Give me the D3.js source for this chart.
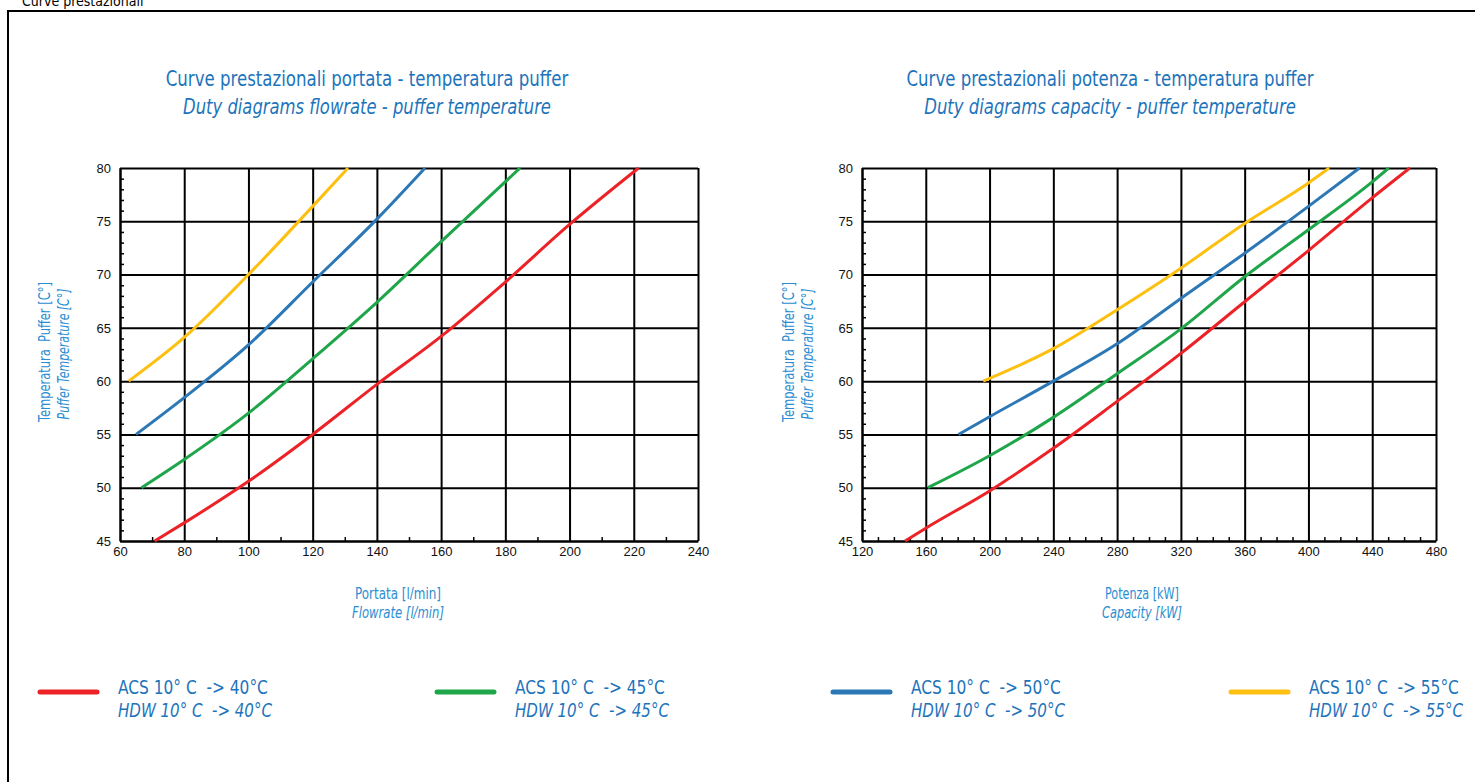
<!DOCTYPE html>
<html>
<head>
<meta charset="utf-8">
<script src="https://cdn.jsdelivr.net/npm/d3@7"></script>
<style>
  body { margin: 0; background: #fff; }
  svg { display: block; }
  text { white-space: pre; }
</style>
</head>
<body>
<div id="chart"></div>
<script>
// Flowrate chart (x = l/min, y = puffer temperature °C)
const flowTicks = [60, 80, 100, 120, 140, 160, 180, 200, 220, 240];
const flow40 = [[70.8, 45], [80, 46.7], [100, 50.6], [120, 55], [140, 59.7], [160, 64.2], [180, 69.3], [200, 74.7], [221.5, 80]];
const flow45 = [[66.7, 50], [80, 52.65], [100, 57], [120, 62.1], [140, 67.4], [160, 73.1], [184.6, 80]];
const flow50 = [[65, 55], [80, 58.45], [100, 63.4], [120, 69.3], [140, 75.2], [155, 80]];
const flow55 = [[62.7, 60], [80, 64.1], [100, 70], [120, 76.4], [131, 80]];

// Capacity chart (x = kW, y = puffer temperature °C)
const powerTicks = [120, 160, 200, 240, 280, 320, 360, 400, 440, 480];
const power40 = [[147, 45], [160, 46.2], [200, 49.7], [240, 53.7], [280, 58.1], [320, 62.6], [360, 67.45], [400, 72.25], [440, 77.2], [463.6, 80]];
const power45 = [[161.3, 50], [200, 53], [240, 56.6], [280, 60.7], [320, 64.9], [360, 69.8], [400, 74.2], [440, 78.7], [450.4, 80]];
const power50 = [[180.5, 55], [200, 56.66], [240, 60], [280, 63.5], [320, 67.76], [360, 72], [400, 76.4], [432, 80]];
const power55 = [[196, 60], [240, 63.05], [280, 66.7], [320, 70.6], [360, 74.8], [400, 78.6], [413, 80]];

const tempTicks = [45, 50, 55, 60, 65, 70, 75, 80];

const legendAcs = ["ACS 10° C  -> 40°C", "ACS 10° C  -> 45°C", "ACS 10° C  -> 50°C", "ACS 10° C  -> 55°C"];
const legendHdw = ["HDW 10° C  -> 40°C", "HDW 10° C  -> 45°C", "HDW 10° C  -> 50°C", "HDW 10° C  -> 55°C"];

const colors = ["#ec2227", "#1fa64a", "#2c78b7", "#fdc010"];
const titleBlue = "#1d74bb";
const labelBlue = "#2a8dd2";
const narrow = "'Liberation Sans Narrow', 'DejaVu Sans Condensed', 'Roboto Condensed', sans-serif";

const width = 1475, height = 782;

const svg = d3.select("#chart").append("svg")
  .attr("width", width)
  .attr("height", height);

// page frame + cut off caption
svg.append("path")
  .attr("d", "M8," + height + " V11 H" + width)
  .attr("fill", "none")
  .attr("stroke", "#000")
  .attr("stroke-width", 2);

svg.append("text")
  .attr("x", 22).attr("y", 6)
  .attr("font-family", narrow)
  .attr("font-size", 14)
  .text("Curve prestazionali");

// text squeezed horizontally to a given width (condensed look)
function label(parent, o) {
  const t = parent.append("text")
    .attr("text-anchor", o.anchor || "start")
    .attr("font-family", narrow)
    .attr("font-size", o.size)
    .attr("font-style", o.italic ? "italic" : null)
    .attr("fill", o.fill)
    .text(o.text);
  const k = o.len / t.node().getComputedTextLength();
  t.attr("transform", "translate(" + o.x + "," + o.y + ")" + (o.rotate ? " rotate(" + o.rotate + ")" : "") + " scale(" + k + ",1)");
  return t;
}

function drawChart(cfg) {
  const x = d3.scaleLinear().domain(cfg.xDomain).range([cfg.left, cfg.right]);
  const y = d3.scaleLinear().domain([45, 80]).range([cfg.bottom, cfg.top]);
  const w = cfg.right - cfg.left;
  const h = cfg.bottom - cfg.top;

  const xMinor = d3.range(cfg.xDomain[0], cfg.xDomain[1] + 0.1, 10).filter(v => !cfg.xTicks.includes(v));
  const yMinor = d3.range(45, 80.1, 1).filter(v => !tempTicks.includes(v));

  const g = svg.append("g");

  // minor ticks
  g.append("g")
    .attr("transform", "translate(0," + cfg.bottom + ")")
    .call(d3.axisBottom(x).tickValues(xMinor).tickSize(-4).tickFormat(""))
    .call(a => a.select(".domain").remove())
    .selectAll("line").attr("stroke", "#000").attr("stroke-width", 1.5);
  g.append("g")
    .attr("transform", "translate(" + cfg.left + ",0)")
    .call(d3.axisLeft(y).tickValues(yMinor).tickSize(-4).tickFormat(""))
    .call(a => a.select(".domain").remove())
    .selectAll("line").attr("stroke", "#000").attr("stroke-width", 1.5);

  // grid
  g.append("g")
    .attr("transform", "translate(0," + cfg.bottom + ")")
    .call(d3.axisBottom(x).tickValues(cfg.xTicks).tickSize(-h).tickSizeOuter(0).tickFormat(""))
    .call(a => a.select(".domain").attr("stroke-width", 2))
    .selectAll("line").attr("stroke", "#000").attr("stroke-width", 2);
  g.append("g")
    .attr("transform", "translate(" + cfg.left + ",0)")
    .call(d3.axisLeft(y).tickValues(tempTicks).tickSize(-w).tickSizeOuter(0).tickFormat(""))
    .call(a => a.select(".domain").attr("stroke-width", 2))
    .selectAll("line").attr("stroke", "#000").attr("stroke-width", 2);

  // tick labels
  const xl = g.append("g")
    .attr("transform", "translate(0," + cfg.bottom + ")")
    .call(d3.axisBottom(x).tickValues(cfg.xTicks).tickSize(0).tickPadding(6));
  xl.select(".domain").remove();
  const yl = g.append("g")
    .attr("transform", "translate(" + cfg.left + ",0)")
    .call(d3.axisLeft(y).tickValues(tempTicks).tickSize(0).tickPadding(9));
  yl.select(".domain").remove();
  [xl, yl].forEach(a => a.selectAll("text")
    .attr("font-family", "'Liberation Sans', Arial, sans-serif")
    .attr("font-size", 13)
    .attr("fill", "#111"));

  // curves
  const line = d3.line()
    .x(d => x(d[0]))
    .y(d => y(d[1]))
    .curve(d3.curveMonotoneX);
  g.selectAll("path.curve")
    .data(cfg.series)
    .join("path")
    .attr("class", "curve")
    .attr("d", line)
    .attr("fill", "none")
    .attr("stroke", (d, i) => colors[i])
    .attr("stroke-width", 3);

  // titles
  label(g, { x: cfg.titleX, y: 86, anchor: "middle", size: 21, fill: titleBlue, text: cfg.title1, len: cfg.title1Len });
  label(g, { x: cfg.titleX, y: 114, anchor: "middle", size: 21, italic: true, fill: titleBlue, text: cfg.title2, len: cfg.title2Len });

  // axis labels
  label(g, { x: cfg.xLabelX, y: 599, anchor: "middle", size: 15, fill: labelBlue, text: cfg.xLabel1, len: cfg.xLabel1Len });
  label(g, { x: cfg.xLabelX, y: 618, anchor: "middle", size: 15, italic: true, fill: labelBlue, text: cfg.xLabel2, len: cfg.xLabel2Len });
  label(g, { x: cfg.yLabelX, y: 352, rotate: -90, anchor: "middle", size: 15, fill: labelBlue, text: "Temperatura  Puffer [C°]", len: 140 });
  label(g, { x: cfg.yLabelX + 19, y: 354, rotate: -90, anchor: "middle", size: 15, italic: true, fill: labelBlue, text: "Puffer Temperature [C°]", len: 131 });
}

drawChart({
  xDomain: [60, 240], xTicks: flowTicks,
  left: 120, right: 698, top: 168, bottom: 541,
  series: [flow40, flow45, flow50, flow55],
  titleX: 367,
  title1: "Curve prestazionali portata - temperatura puffer", title1Len: 403,
  title2: "Duty diagrams flowrate - puffer temperature", title2Len: 368,
  xLabelX: 398,
  xLabel1: "Portata [l/min]", xLabel1Len: 86,
  xLabel2: "Flowrate [l/min]", xLabel2Len: 92,
  yLabelX: 50
});

drawChart({
  xDomain: [120, 480], xTicks: powerTicks,
  left: 862, right: 1436, top: 168, bottom: 541,
  series: [power40, power45, power50, power55],
  titleX: 1110,
  title1: "Curve prestazionali potenza - temperatura puffer", title1Len: 407,
  title2: "Duty diagrams capacity - puffer temperature", title2Len: 372,
  xLabelX: 1142,
  xLabel1: "Potenza [kW]", xLabel1Len: 74,
  xLabel2: "Capacity [kW]", xLabel2Len: 80,
  yLabelX: 794
});

// legend
const legendX = [40, 437, 833, 1231];
const legend = svg.append("g");
legendX.forEach((lx, i) => {
  legend.append("line")
    .attr("x1", lx).attr("x2", lx + 57)
    .attr("y1", 692).attr("y2", 692)
    .attr("stroke", colors[i])
    .attr("stroke-width", 5)
    .attr("stroke-linecap", "round");
  label(legend, { x: lx + 78, y: 694, size: 19.5, fill: titleBlue, text: legendAcs[i], len: 150 });
  label(legend, { x: lx + 78, y: 717, size: 19.5, italic: true, fill: titleBlue, text: legendHdw[i], len: 154 });
});
</script>
</body>
</html>
